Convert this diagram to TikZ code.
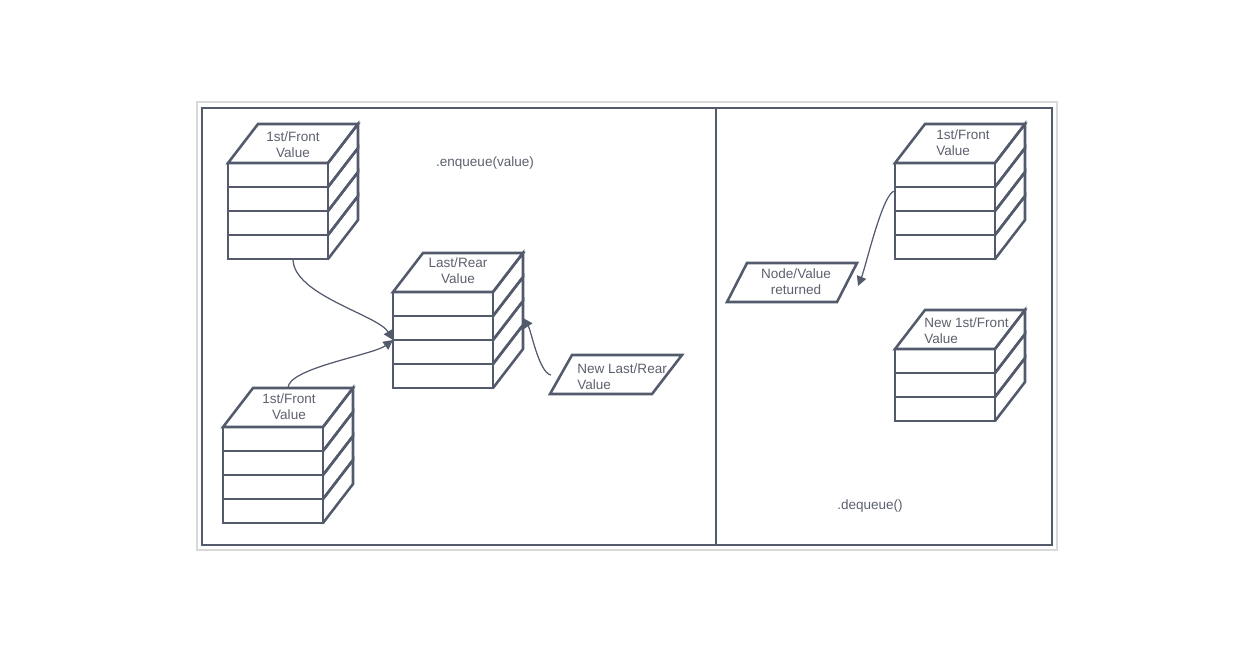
\documentclass[tikz,border=0pt]{standalone}
\usepackage{fontspec}
\setmainfont{Liberation Sans}
\usepackage{xcolor}
\usepackage{tikz}
\tikzset{>=latex}
\usetikzlibrary{
    arrows.meta, % arrow tips
    calc % coordinate calculations
}

\definecolor{slate}{HTML}{525A6B}
\definecolor{txtgray}{HTML}{5B606C}
\definecolor{framegray}{HTML}{D9D9D9}

\tikzset{
  stackline/.style={draw=slate, line width=1.45pt},
  link/.style={draw=slate, line width=0.7pt, -{Triangle[length=5.5pt,width=5.5pt]}},
  lbl/.style={font=\fontsize{7.7}{9}\selectfont, text=txtgray, inner sep=0pt, align=center}
}

% stack of layers: name, front top-left x, front top-left y, number of layers
\newcommand{\qstack}[4]{%
  \begin{scope}[shift={(#2,#3)}]
    % top face
    \draw[stackline] (0,0) -- (\Wd,0) -- ({\Wd+\Dx},-\Dy) -- (\Dx,-\Dy) -- cycle;
    % layers, front and side
    \foreach \k in {1,...,#4}{
      \draw[stackline] (0,{(\k-1)*\Ly}) rectangle (\Wd,{\k*\Ly});
      \draw[stackline] (\Wd,{(\k-1)*\Ly}) -- ({\Wd+\Dx},{(\k-1)*\Ly-\Dy})
                       -- ({\Wd+\Dx},{\k*\Ly-\Dy}) -- (\Wd,{\k*\Ly});
    }
    % anchors for the links
    \coordinate (#1-top) at ({(\Wd+\Dx)/2},-\Dy);
    \coordinate (#1-bot) at ({(\Wd+\Dx)/2},{#4*\Ly});
    \coordinate (#1-w1) at (0,{\Ly+4});
    \coordinate (#1-w2) at (0,{2*\Ly});
    \coordinate (#1-e1) at ({\Wd+\Dx},{\Ly+2});
  \end{scope}}

\begin{document}
\begin{tikzpicture}[x=0.02cm, y=-0.02cm]
  % simple knobs (pixel units)
  \def\Wd{100}  % front width
  \def\Ly{24}   % layer height
  \def\Dx{30}   % depth, horizontal
  \def\Dy{39}   % depth, vertical

  \useasboundingbox (0,0) rectangle (1255,654);

  % ===================== FRAME =====================
  \draw[framegray, line width=0.6pt] (197,102) rectangle (1057,550);
  \draw[stackline] (202,108) rectangle (1052,545);
  \draw[stackline] (716,108) -- (716,545);

  % ===================== LEFT PANEL: enqueue =====================
  \qstack{qa}{228}{163}{4}
  \qstack{qb}{393}{292}{4}
  \qstack{qc}{223}{427}{4}

  \node[lbl] (qa-txt) at (293,145) {1st/Front\\Value};
  \node[lbl] (qb-txt) at (458,271) {Last/Rear\\Value};
  \node[lbl] (qc-txt) at (289,407) {1st/Front\\Value};

  % new element
  \draw[stackline] (550,394) -- (652,394) -- (682,355) -- (572,355) -- cycle;
  \node[lbl, anchor=west, align=left] (newrear) at (577,377) {New Last/Rear\\Value};
  \coordinate (newrear-w) at (551,375);

  \node[lbl] (enq) at (485,163) {.enqueue(value)};

  % links
  \draw[link] (qa-bot) .. controls +(0,36) and +(-15,-25) .. (qb-w2);
  \draw[link] (qc-top) .. controls +(0,-20) and +(-20,15) .. (qb-w2);
  \draw[link] (newrear-w) .. controls +(-12,-2) and +(8,12) .. (qb-e1);

  % ===================== RIGHT PANEL: dequeue =====================
  \qstack{qd}{895}{163}{4}
  \qstack{qe}{895}{349}{3}

  \node[lbl, anchor=west, align=left] (qd-txt) at (936,143) {1st/Front\\Value};
  \node[lbl, anchor=west, align=left] (qe-txt) at (924,331) {New 1st/Front\\Value};

  % returned element
  \draw[stackline] (727,302) -- (837,302) -- (857,263) -- (747,263) -- cycle;
  \node[lbl] (ret) at (796,282) {Node/Value\\returned};
  \coordinate (ret-e) at (858,286);

  \node[lbl] (deq) at (870,506) {.dequeue()};

  % link
  \draw[link] (qd-w1) .. controls +(-12,0) and +(8,-20) .. (ret-e);
\end{tikzpicture}
\end{document}
